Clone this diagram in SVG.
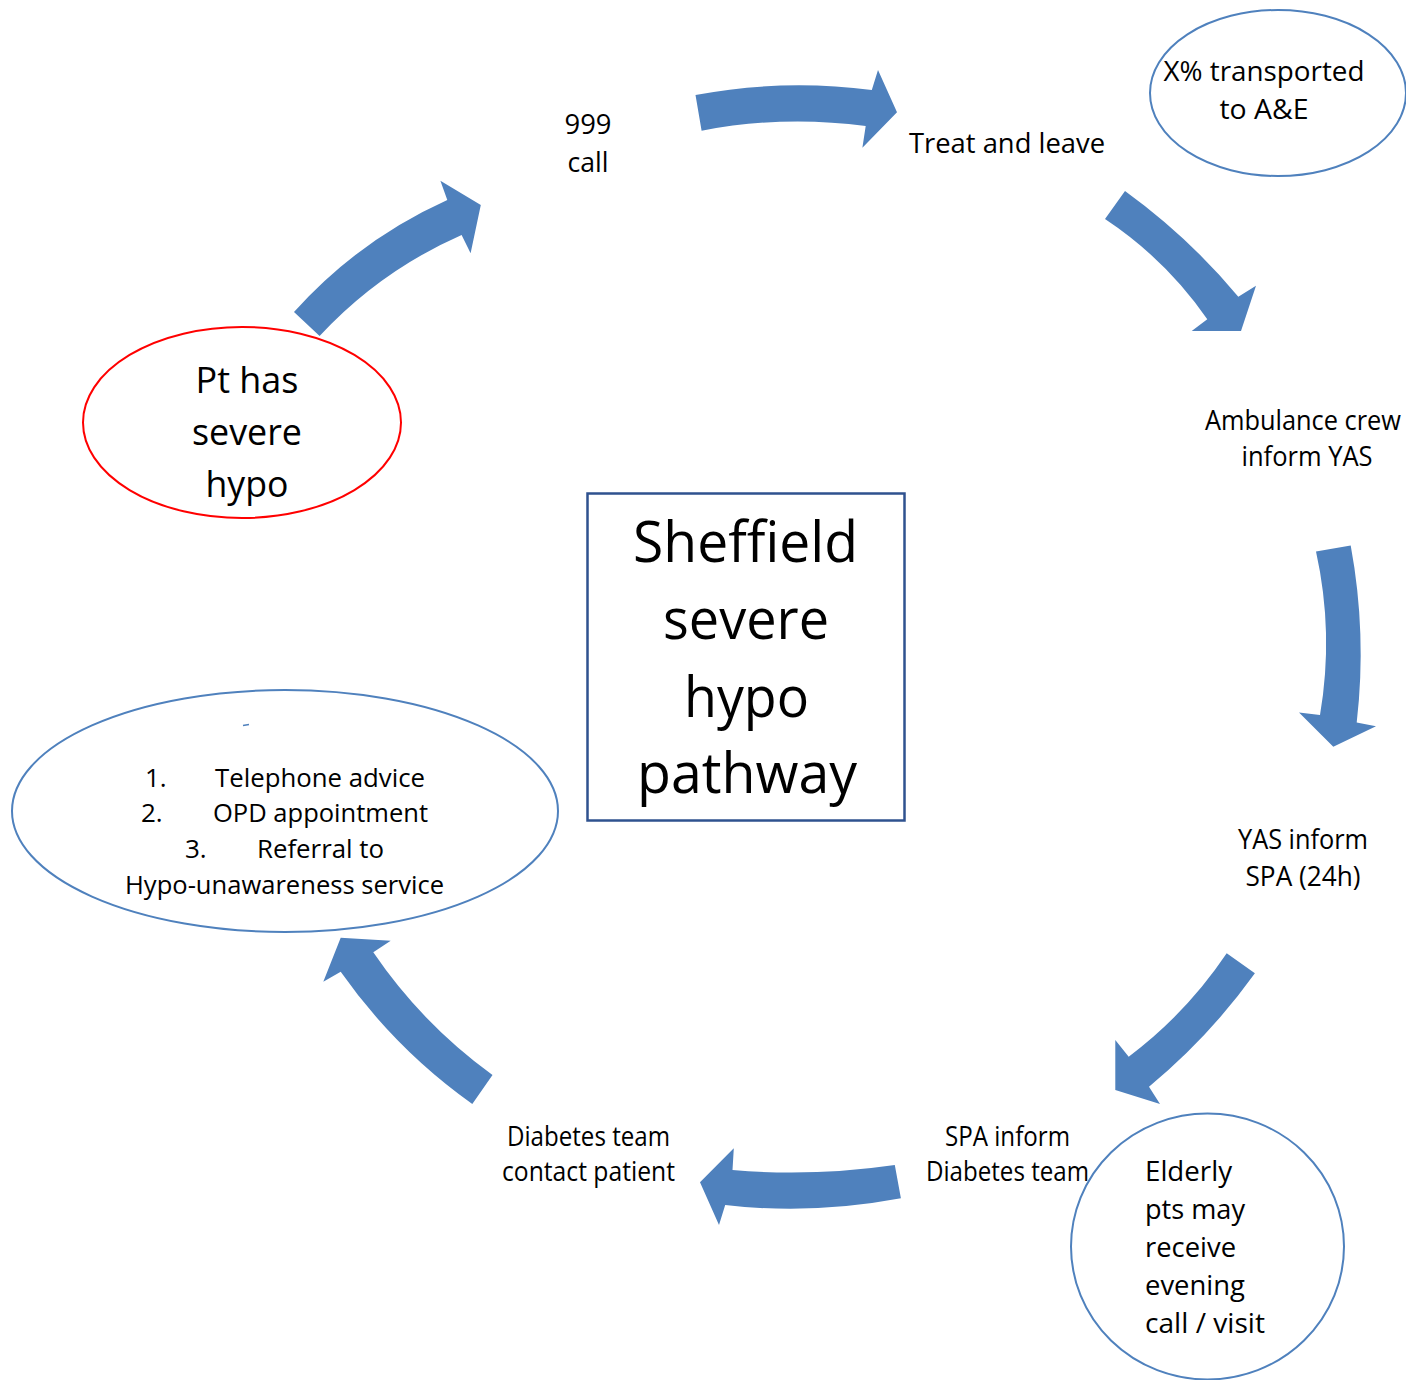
<svg xmlns="http://www.w3.org/2000/svg" width="1406" height="1380" viewBox="0 0 1406 1380">
<style>
  .bg { fill: #ffffff; }
  .t { font-family: "Open Sans", "Noto Sans", "Liberation Sans", sans-serif; fill: #000000; }
  .lbl { font-size: 27px; text-anchor: middle; }
  .arrow { fill: #4f81bd; stroke: none; }
  .ell { fill: none; stroke: #4f81bd; stroke-width: 2; }
  .red { fill: none; stroke: #ff0000; stroke-width: 2; }
</style>
<rect class="bg" x="0" y="0" width="1406" height="1380"/>

<g id="connectors">
  <path class="arrow" d="M294,312 Q358.7,239.9 447.3,200 L440.4,180.7 L480.8,205 L470.6,253.3 L461.6,235 Q380.2,270.8 319.6,336 Z"/>
  <path class="arrow" d="M695.5,95 Q783,78.5 871.8,90 L878,70 L897,112.3 L862.4,147.7 L865.7,126 Q783,115 701.6,130.7 Z"/>
  <path class="arrow" d="M1125,191 Q1188.6,237.1 1238.3,296.7 L1256,285.7 L1241,331 L1191.7,331 L1207.3,319.3 Q1166,259.5 1105,219 Z"/>
  <path class="arrow" d="M1316,551.5 Q1334,633 1320,715 L1299,712.6 L1333.3,746.7 L1376,726.3 L1356.7,722.6 Q1367,634 1350.7,545.6 Z"/>
  <path class="arrow" d="M1226.7,953.3 L1254.9,973.3 Q1209.3,1036.8 1149,1086.7 L1160,1104 L1115.3,1090 L1115.3,1040 L1128.7,1056.7 Q1186.4,1013.3 1226.7,953.3 Z"/>
  <path class="arrow" d="M894.8,1165 Q812,1177 732.5,1170 L733.8,1148.3 L700,1182.3 L719,1225 L725.2,1205 Q812,1215 900.9,1198.3 Z"/>
  <path class="arrow" d="M492.5,1075 Q422,1023.9 373.3,952.3 L390.7,940.7 L340.7,937.7 L323.3,981.7 L340.7,971.7 Q395.2,1049.2 472.3,1104 Z"/>
</g>

<g id="node-pt">
  <ellipse class="red" cx="242" cy="422.5" rx="159" ry="95.5"/>
  <text class="t" x="247" y="393" font-size="37" text-anchor="middle" textLength="103" lengthAdjust="spacingAndGlyphs">Pt has</text>
  <text class="t" x="247" y="445" font-size="37" text-anchor="middle" textLength="110" lengthAdjust="spacingAndGlyphs">severe</text>
  <text class="t" x="247" y="497" font-size="37" text-anchor="middle" textLength="83" lengthAdjust="spacingAndGlyphs">hypo</text>
</g>

<g id="node-999">
  <text class="t lbl" x="588" y="134" textLength="47" lengthAdjust="spacingAndGlyphs">999</text>
  <text class="t lbl" x="588" y="172" textLength="41" lengthAdjust="spacingAndGlyphs">call</text>
</g>

<g id="node-treat">
  <text class="t" x="909" y="153" font-size="27" textLength="196" lengthAdjust="spacingAndGlyphs">Treat and leave</text>
</g>

<g id="node-transported">
  <ellipse class="ell" cx="1278" cy="93" rx="128" ry="83"/>
  <text class="t lbl" x="1264" y="81" textLength="201" lengthAdjust="spacingAndGlyphs">X% transported</text>
  <text class="t lbl" x="1264" y="119" textLength="89" lengthAdjust="spacingAndGlyphs">to A&amp;E</text>
</g>

<g id="node-ambulance">
  <text class="t lbl" x="1303" y="430" font-size="23" textLength="196" lengthAdjust="spacingAndGlyphs">Ambulance crew</text>
  <text class="t lbl" x="1307" y="466" font-size="24.5" textLength="131" lengthAdjust="spacingAndGlyphs">inform YAS</text>
</g>

<g id="node-yas">
  <text class="t lbl" x="1303" y="849" font-size="24.5" textLength="130" lengthAdjust="spacingAndGlyphs">YAS inform</text>
  <text class="t lbl" x="1303" y="886" font-size="24.5" textLength="115" lengthAdjust="spacingAndGlyphs">SPA (24h)</text>
</g>

<g id="node-spa">
  <text class="t lbl" x="1007.5" y="1146" font-size="23.5" textLength="125" lengthAdjust="spacingAndGlyphs">SPA inform</text>
  <text class="t lbl" x="1007.5" y="1181" font-size="23.5" textLength="163" lengthAdjust="spacingAndGlyphs">Diabetes team</text>
</g>

<g id="node-elderly">
  <ellipse class="ell" cx="1207.5" cy="1246.5" rx="136.5" ry="133"/>
  <text class="t" x="1145" y="1181" font-size="28" textLength="87" lengthAdjust="spacingAndGlyphs">Elderly</text>
  <text class="t" x="1145" y="1219" font-size="28" textLength="100" lengthAdjust="spacingAndGlyphs">pts may</text>
  <text class="t" x="1145" y="1257" font-size="28" textLength="91" lengthAdjust="spacingAndGlyphs">receive</text>
  <text class="t" x="1145" y="1295" font-size="28" textLength="100" lengthAdjust="spacingAndGlyphs">evening</text>
  <text class="t" x="1145" y="1333" font-size="28" textLength="120" lengthAdjust="spacingAndGlyphs">call / visit</text>
</g>

<g id="node-contact">
  <text class="t lbl" x="588.5" y="1146" font-size="23.5" textLength="163" lengthAdjust="spacingAndGlyphs">Diabetes team</text>
  <text class="t lbl" x="588.5" y="1181" font-size="23.5" textLength="173" lengthAdjust="spacingAndGlyphs">contact patient</text>
</g>

<g id="node-options">
  <ellipse class="ell" cx="285" cy="811" rx="273" ry="121"/>
  <line x1="243" y1="725.5" x2="249" y2="724.5" stroke="#4f81bd" stroke-width="1.5"/>
  <text class="t" x="145" y="787" font-size="26">1.</text>
  <text class="t" x="215" y="787" font-size="26" textLength="210" lengthAdjust="spacingAndGlyphs">Telephone advice</text>
  <text class="t" x="141" y="822" font-size="26">2.</text>
  <text class="t" x="213" y="822" font-size="26" textLength="215" lengthAdjust="spacingAndGlyphs">OPD appointment</text>
  <text class="t" x="185" y="858" font-size="26">3.</text>
  <text class="t" x="257" y="858" font-size="26" textLength="127" lengthAdjust="spacingAndGlyphs">Referral to</text>
  <text class="t" x="284.5" y="894" font-size="26" text-anchor="middle" textLength="319" lengthAdjust="spacingAndGlyphs">Hypo-unawareness service</text>
</g>

<g id="node-title">
  <rect x="587.5" y="493.5" width="317" height="327" fill="none" stroke="#2f528f" stroke-width="2.5"/>
  <text class="t" x="745.5" y="562" font-size="57" text-anchor="middle" textLength="225" lengthAdjust="spacingAndGlyphs">Sheffield</text>
  <text class="t" x="746" y="639" font-size="57" text-anchor="middle" textLength="166" lengthAdjust="spacingAndGlyphs">severe</text>
  <text class="t" x="746.5" y="717" font-size="57" text-anchor="middle" textLength="125" lengthAdjust="spacingAndGlyphs">hypo</text>
  <text class="t" x="747" y="793" font-size="57" text-anchor="middle" textLength="220" lengthAdjust="spacingAndGlyphs">pathway</text>
</g>
</svg>
